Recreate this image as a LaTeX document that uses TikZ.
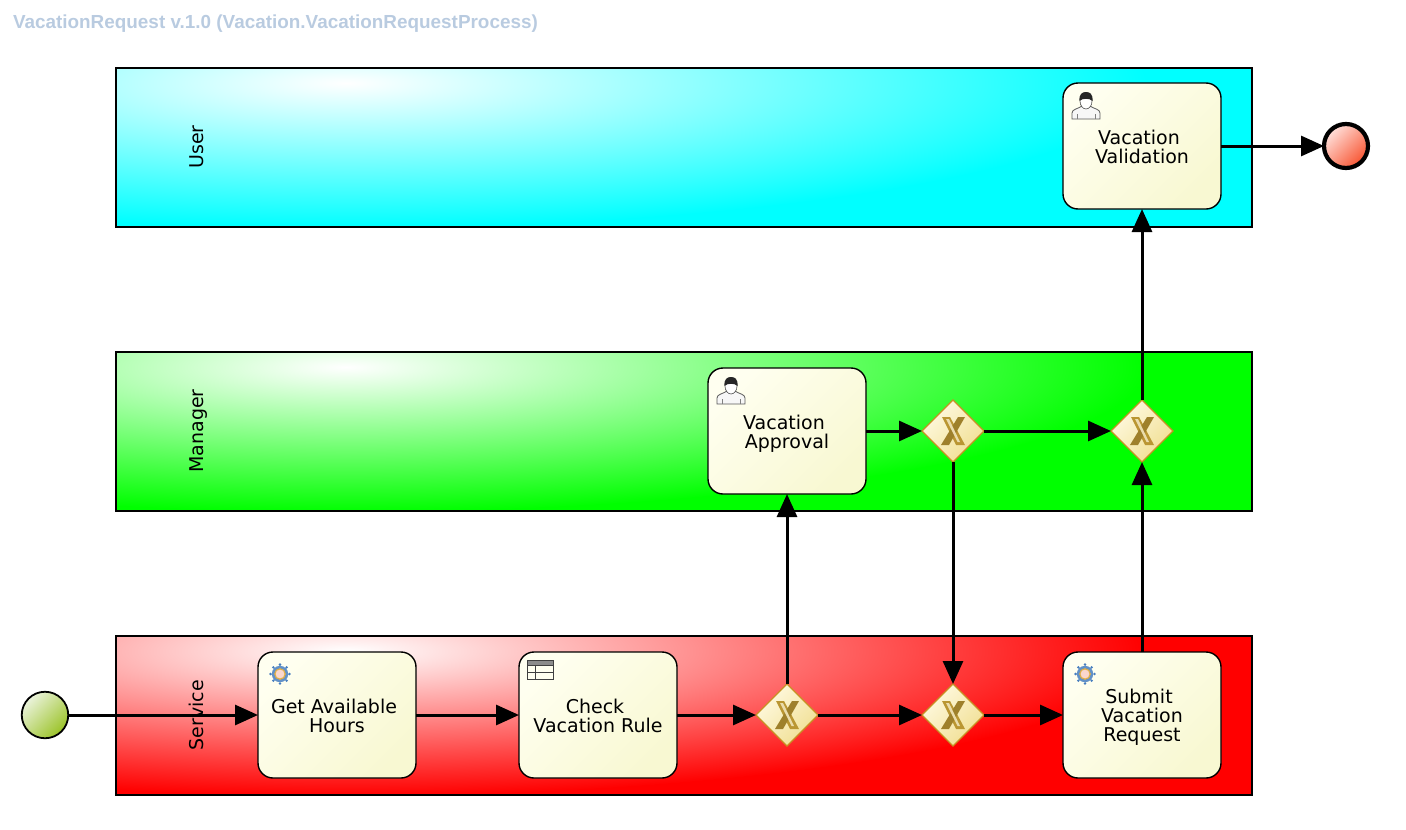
\documentclass[tikz,border=0pt]{standalone}
\usepackage{fontspec}
\setmainfont{DejaVu Sans}
\newfontfamily\titlefont{Liberation Sans}
\usetikzlibrary{arrows.meta,positioning,shapes.geometric}
\definecolor{laneuser}{RGB}{0,255,255}
\definecolor{lanemanager}{RGB}{0,255,0}
\definecolor{laneservice}{RGB}{255,0,0}
\definecolor{titleblue}{RGB}{185,203,224}
\definecolor{tasklight}{RGB}{255,255,240}
\definecolor{taskdark}{RGB}{248,248,210}
\definecolor{gwborder}{RGB}{200,145,35}
\definecolor{gwlight}{RGB}{255,250,225}
\definecolor{gwdark}{RGB}{240,222,145}
\definecolor{gwgold}{RGB}{186,150,50}
\definecolor{startlight}{RGB}{235,243,220}
\definecolor{startdark}{RGB}{155,195,40}
\definecolor{endlight}{RGB}{255,225,220}
\definecolor{enddark}{RGB}{248,85,50}
\definecolor{iconblue}{RGB}{70,125,190}
\definecolor{icongold}{RGB}{225,175,70}
\definecolor{iconpink}{RGB}{250,215,205}
\newcommand{\taskstrut}{\rule{0pt}{20pt}}
\tikzset{
  usericon/.pic={
    \draw[line width=0.8pt,draw=black!65,fill=black!3] (0,27)--(0,21) .. controls (0,17) and (6,17) .. (10,14)--(18,14) .. controls (22,17) and (28,17) .. (28,21)--(28,27)--cycle;
    \draw[line width=0.6pt,draw=black!50] (5,27)--(5,22) (23,27)--(23,22);
    \fill[white] (14,9) ellipse [x radius=6,y radius=8];
    \draw[line width=0.6pt,draw=black!70] (14,9) ellipse [x radius=6,y radius=8];
    \fill[black!85] (7.5,9) .. controls (7,2) and (10,0) .. (14,0) .. controls (18,0) and (21,2) .. (20.5,9) .. controls (18,6) and (10,6) .. cycle;
  },
  gearicon/.pic={
    \foreach \tooth in {0,45,...,315}{\fill[iconblue] (\tooth:9.4)circle(1.4);}
    \fill[iconblue!85] (0,0) circle (8.2);
    \draw[line width=1.2pt,draw=icongold,fill=iconpink] (0,0) circle (5.2);
  },
  tableicon/.pic={
    \fill[black!45] (0,0) rectangle (26,5);
    \draw[line width=0.9pt,draw=black!75] (0,0) rectangle (26,19) (0,5)--(26,5) (0,12)--(26,12) (8,5)--(8,19);
  },
  gatewayx/.pic={
    \fill[gwgold] (-11,-14)--(-3,-14)--(12,14)--(3,14)--cycle;
    \fill[gwgold!85!black] (5,-14)--(12,-14)--(-4,14)--(-12,14)--cycle;
    \fill[gwlight!70!gwgold] (-7,-12)--(-4,-12)--(7,11)--(4.5,11)--cycle;
  }
}
\begin{document}
\begin{tikzpicture}[
  x=1pt,y=-1pt,outer sep=0pt,
  lanebox/.style={rectangle,draw=black,line width=1.6pt,inner sep=0pt,minimum width=1136pt,minimum height=159pt,
    path picture={\fill[#1] (path picture bounding box.north west) rectangle (path picture bounding box.south east);
      \shade[inner color=white,outer color=#1] ([xshift=230pt,yshift=-15pt]path picture bounding box.north west) ellipse [x radius=800pt,y radius=145pt];}},
  lanelabel/.style={rotate=90,anchor=base,font=\fontsize{19pt}{20pt}\selectfont,inner sep=0pt},
  taskbox/.style={rectangle,rounded corners=15pt,draw=black,line width=1.4pt,top color=tasklight,bottom color=taskdark,shading angle=45,
    minimum width=158pt,minimum height=126pt,inner sep=0pt,align=center,font=\fontsize{19pt}{19pt}\selectfont,
    execute at end node={\rule[-5pt]{0pt}{5pt}}},
  gwbox/.style={diamond,aspect=1,draw=gwborder,line width=1.2pt,top color=gwlight,bottom color=gwdark,shading angle=45,minimum width=62pt,minimum height=62pt,inner sep=0pt},
  startevent/.style={circle,draw=black,line width=1.8pt,top color=startlight,bottom color=startdark,shading angle=45,minimum size=46.5pt,inner sep=0pt},
  stopevent/.style={circle,draw=black,line width=4.2pt,top color=endlight,bottom color=enddark,shading angle=45,minimum size=44pt,inner sep=0pt},
  flow/.style={-{Triangle[length=23pt,width=20pt]},line width=3pt,draw=black}]
  \useasboundingbox (0,0) rectangle (1406,830);
  \node[anchor=base west,inner sep=0pt,text=titleblue,font=\titlefont\bfseries\fontsize{18.9pt}{20pt}\selectfont] (title) at (13,28) {VacationRequest v.1.0 (Vacation.VacationRequestProcess)};
  \node[lanebox=laneuser] (laneU) at (684,147.5) {};
  \node[lanebox=lanemanager] (laneM) at (684,431.5) {};
  \node[lanebox=laneservice] (laneS) at (684,715.5) {};
  \node[lanelabel] (labelU) at (203,147) {User};
  \node[lanelabel] (labelM) at (203,431) {Manager};
  \node[lanelabel] (labelS) at (203,715) {Service};
  \node[taskbox] (gethours) at (337,715) {\taskstrut Get Available\hspace*{6pt}\\Hours};
  \node[startevent,left=189.75pt of gethours] (start) {};
  \node[taskbox,right=103pt of gethours] (checkrule) {\taskstrut Check\hspace*{6pt}\\Vacation Rule};
  \node[gwbox,right=79pt of checkrule] (gwa) {};
  \node[gwbox,right=104pt of gwa] (gwb) {};
  \node[taskbox,right=79pt of gwb] (submit) {\taskstrut Submit\hspace*{6pt}\\Vacation\hspace*{6pt}\\Request};
  \node[taskbox,above=190pt of gwa] (approval) {\taskstrut Vacation\hspace*{6pt}\\Approval};
  \node[gwbox,right=56pt of approval] (gwc) {};
  \node[gwbox,right=127pt of gwc] (gwd) {};
  \node[taskbox,above=191pt of gwd] (validation) {\taskstrut Vacation\hspace*{6pt}\\Validation};
  \node[stopevent,right=103pt of validation] (stop) {};
  \foreach \gw in {gwa,gwb,gwc,gwd}{\pic at (\gw) {gatewayx};}
  \pic at ([xshift=9pt,yshift=-9pt]validation.north west) {usericon};
  \pic at ([xshift=9pt,yshift=-9pt]approval.north west) {usericon};
  \pic at ([xshift=22pt,yshift=-22pt]gethours.north west) {gearicon};
  \pic at ([xshift=22pt,yshift=-22pt]submit.north west) {gearicon};
  \pic at ([xshift=8pt,yshift=-8pt]checkrule.north west) {tableicon};
  \draw[flow] (start)--(gethours); \draw[flow] (gethours)--(checkrule); \draw[flow] (checkrule)--(gwa);
  \draw[flow] (gwa)--(gwb); \draw[flow] (gwb)--(submit); \draw[flow] (gwa)--(approval);
  \draw[flow] (approval)--(gwc); \draw[flow] (gwc)--(gwd); \draw[flow] (gwc)--(gwb);
  \draw[flow] (submit)--(gwd); \draw[flow] (gwd)--(validation); \draw[flow] (validation)--(stop);
\end{tikzpicture}
\end{document}
